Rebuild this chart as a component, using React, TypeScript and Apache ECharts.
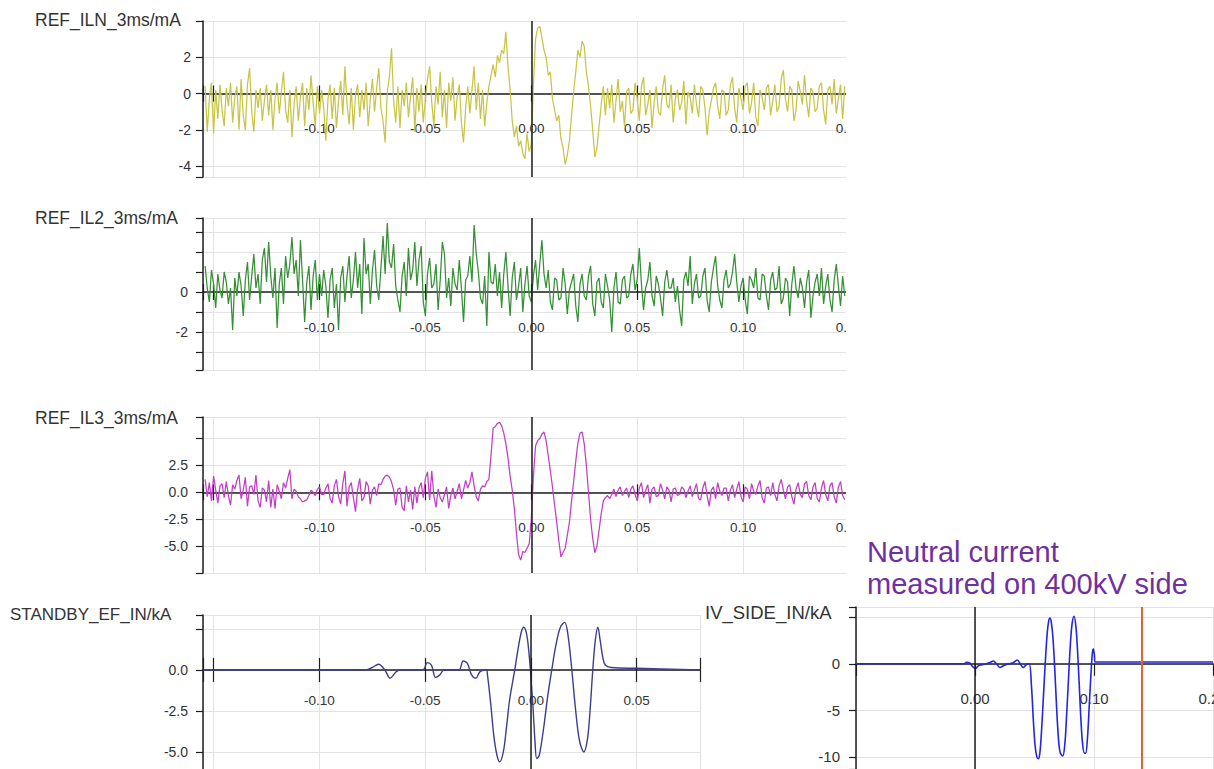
import React, { useEffect, useRef } from 'react';
import * as echarts from 'echarts';

// ---- sampling of the three REF traces (time axis, seconds) ----
const T0 = -0.154;
const DT = 0.001;

const ilnValues = [
  0.4, -2.1, -0.3, 0.6, -2.2, 0.2, -1.4, 0.5, -0.9, -1.8,
  0.3, -0.7, 0.6, -1.6, -0.2, 0.4, -2.0, 0.8, -1.2, -2.0,
  0.5, 1.4, -1.0, -2.1, 0.2, -0.8, 0.3, -1.5, -0.4, 0.5,
  -1.2, 0.2, -2.0, -0.3, 0.6, -1.1, 0.1, 1.2, -0.9, -1.6,
  0.2, -2.4, -0.6, 0.4, -1.5, -0.2, 0.6, -1.8, 0.3, -0.9,
  1.0, -0.5, -1.8, 0.4, -1.1, 0.2, -0.8, -2.6, -0.3, 0.5,
  -1.4, 0.3, -1.9, -0.4, 0.7, -1.2, 1.5, -0.6, -1.7, 0.3,
  -2.0, -0.1, 0.5, -1.3, 0.2, -0.9, 0.6, -1.8, -0.3, 0.8,
  -1.0, 0.3, 1.4, -0.8, -1.5, -2.7, 0.1, 0.9, 2.5, -0.4,
  -1.6, 0.4, -1.9, 0.2, -0.7, 0.6, -1.3, -0.2, 0.9, -2.1,
  0.3, -1.0, 0.5, -1.6, -0.3, 0.8, 1.5, -0.5, -1.8, 0.4,
  -0.6, 1.2, -1.3, 0.2, -1.9, 0.6, -0.4, 0.9, -1.5, -0.2,
  0.5, -1.6, -2.7, -0.8, 0.4, -1.1, 0.2, 1.5, -0.9, 0.6,
  -1.4, 0.2, -1.8, -0.5,
  0.4, 1.0, 1.6, 0.9, 2.1, 1.7, 2.4, 2.2, 3.4, 1.5,
  0.2, -1.5, -2.4, -1.8, -2.9, -2.6, -3.3, -3.6, -2.2, -3.2,
  -2.8, 0.5, 3.0, 3.6, 3.7, 3.1, 2.4, 2.0, 1.0, 1.2,
  -0.3, -0.9, -1.5, -1.2, -2.5, -3.0, -3.9, -3.4, -2.6, -1.2,
  0.1, 1.2, 2.4, 2.0, 2.9, 2.6, 1.2, 0.4, -0.7, -2.0,
  -3.5, -3.0, -1.8, -0.6, 0.4,
  -1.2, 0.3, -0.8, 0.5, -1.6, -0.4, 0.8, -1.0, -0.4, -1.8,
  0.1, 0.3, -1.1, -0.9, 0.6, -0.2, -1.5, 0.4, 0.9, -1.2,
  -0.6, 0.2, -1.9, -0.5, 0.4, -1.0, -1.2, 0.3, 1.0, -0.6,
  -0.8, 0.5, -1.6, -0.3, 0.2, -0.9, -0.5, 0.7, -1.7, 0.1,
  -0.2, -1.1, 0.5, -0.6, -1.3, 0.4, 0.2, -0.8, -2.3, -1.0,
  -0.4, 0.3, 0.6, -0.7, -1.4, 0.2, 0.1, -1.2, -0.9, 0.5,
  0.9, -0.8, -1.6, 0.3, -0.3, -0.9, 0.4, 0.6, -1.1, -0.5,
  0.6, -1.3, -1.8, 0.2, -0.2, -0.9, 0.3, 0.5, -1.2, -0.4,
  0.5, -1.0, -0.7, 0.8, 1.3, -0.3, -1.0, 0.4, 0.2, -1.5,
  -0.9, 0.7, 0.1, -0.6, 1.0, -0.4, -1.3, 0.3, 0.1, -1.0,
  -0.8, 0.4, 0.6, -0.9, -1.7, 0.2, 0.4, -0.6, 0.8, -1.1,
  -0.3, 0.5, -1.4, 0.4,
];

const il2Values = [
  1.3, 0.2, -0.5, 1.1, 0.4, -0.8, 0.9, 0.1, -0.3, 1.0,
  0.5, -0.6, 0.2, -1.9, 0.7, -0.2, 1.0, 0.3, -1.2, 0.6,
  1.5, -0.4, 0.8, 1.9, 0.2, 0.9, -0.6, 1.6, 2.2, 0.5,
  2.5, 0.8, -0.3, 1.2, -1.8, 0.4, 1.2, -0.6, 1.8, 0.7,
  1.4, 2.75, 0.9, 1.6, -0.2, 2.6, 0.6, -1.5, 0.5, 1.3,
  -0.9, 0.8, 1.6, -0.4, 0.9, -0.2, 1.1, 0.3, -1.3, 0.6,
  1.2, -0.8, 0.4, -1.9, 0.7, 1.3, -0.5, 0.8, 1.8, -0.3,
  0.6, 2.0, 0.2, 1.4, -1.1, 2.7, 0.9, 1.4, -0.6, 1.1,
  2.1, 0.3, -0.4, 1.2, 2.8, 0.9, 3.45, 1.5, 1.2, 2.4,
  0.3, -0.4, -1.0, 0.8, 1.5, -0.2, 2.2, 0.6, 1.1, 2.5,
  0.3, 1.6, 2.3, -0.5, -1.2, 0.9, 1.7, 0.2, 0.4, 1.4,
  -0.9, 0.6, 2.5, 1.9, -0.3, 0.7, -0.7, 1.2, 0.4, 0.1,
  1.6, 0.2, -1.5, 0.6, 0.8, 1.8, 0.5, 3.35, 1.9, 1.0,
  -0.3, -0.6, 0.8, -1.7, 2.0, 0.5, 0.4, 1.4, -0.2, 1.0,
  -0.8, 0.9, 2.0, 0.3, -1.2, 0.7, 1.5, -0.4, 0.3, 1.2,
  -1.0, 0.4, 1.3, -0.2, -0.5, 0.8, 1.6, 0.1, 1.4, 2.6,
  0.9, 0.2, 1.1, -0.5, -0.9, 0.7, 0.6, -0.4, -0.3, 1.2,
  0.4, -1.1, 0.1, 0.5, 0.9, -0.7, -1.5, 0.4, 0.9, -0.2,
  -0.4, 0.8, 1.3, -0.6, -1.2, 0.5, 0.7, -0.5, -0.8, 0.9,
  0.3, -0.4, -2.0, 0.2, 1.0, -0.5, -0.6, 0.6, 0.8, -0.3,
  -0.2, 0.9, 1.4, 0.1, 0.6, 2.2, 0.4, -0.9, 0.2, 0.6,
  1.5, -0.2, -0.7, 0.8, 0.4, -0.3, -1.2, 0.5, 1.1, 0.2,
  0.2, 0.7, -0.5, 0.3, -0.9, -1.7, 0.6, 1.0, 0.3, 1.8,
  -0.6, 0.4, 0.9, -0.3, -0.2, 0.8, 1.2, -0.4, -1.0, 0.5,
  1.2, 1.8, 0.3, -0.4, -0.8, 0.6, 1.1, 0.2, 0.4, 1.0,
  1.9, 0.5, -0.5, 0.3, 0.7, -0.4, -1.1, 0.8, 0.6, 0.2,
  1.2, -0.3, -0.4, 0.9, 0.8, -0.2, -0.9, 0.6, 1.0, 0.1,
  0.2, 1.3, -0.6, -0.3, 0.7, 0.5, -1.2, 0.4, 1.3, 0.2,
  -0.3, 0.7, 0.2, -0.8, 0.5, 1.1, -1.3, -0.2, 0.5, 0.9,
  -0.2, 1.2, -0.6, 0.3, 0.9, -0.4, -1.0, 0.6, 1.4, 0.3,
  -0.7, 0.8, -0.2,
];

const il3Values = [
  1.2, -0.4, 0.9, -0.8, 1.5, 0.2, -1.0, 0.6, 0.8, -0.5,
  1.0, -0.3, -1.2, 0.7, 0.3, 1.1, 1.6, -0.6, 0.2, 1.4,
  -1.3, 0.5, 0.6, -0.2, 1.6, -0.8, -1.4, 0.4, 0.2, -0.9,
  1.1, -1.4, 0.3, -1.5, 0.7, 0.1, -0.6, 0.9, 0.4, 1.3,
  2.1, -0.6, 0.3, 0.1, -0.4, -0.6, -0.9, -0.8, -0.7, -0.3,
  0.2, 0.0, -0.3, 0.3, 0.5, -0.2, -0.2, 0.4, 0.8, -0.6,
  -1.0, 0.6, 1.2, -0.4, -1.1, 0.8, 2.0, -1.3, 0.5, 0.9,
  -0.5, -1.8, 0.3, 1.3, -0.8, -0.5, 1.0, 0.6, -1.1, 0.2,
  0.5, -0.3, 0.8, 0.7, 1.2, 1.5, 1.6, 1.4, 1.0, 0.2,
  -1.2, 0.3, 0.4, -1.4, -1.7, 0.6, -0.9, 0.2, -1.6, 0.5,
  -1.0, 0.4, 0.9, -0.5, 1.3, 1.9, -0.7, 2.0, -0.3, -1.4,
  0.3, -0.5, -0.9, -0.2, 0.5, -1.5, -0.3, 0.4, -0.6, 0.1,
  0.8, -0.6, 0.2, 1.1, 0.4, 0.9, 1.9, 0.6, -0.4, -0.8,
  0.3, 0.6,
  0.5, 1.0, 1.2, 3.5, 6.0, 6.1, 6.4, 6.5, 6.2, 5.5,
  4.5, 3.2, 1.5, 0.2, -1.5, -3.8, -5.8, -6.3, -5.5, -5.6,
  -5.2, -4.8, -2.5, 1.5, 4.3, 4.8, 5.0, 5.4, 5.6, 4.8,
  3.4, 2.0, 0.5, -1.2, -2.8, -4.5, -6.0, -5.6, -5.2, -4.0,
  -2.8, -0.8, 1.0, 2.9, 4.6, 5.5, 5.6, 4.5, 2.5, 0.0,
  -2.5, -4.3, -5.6, -5.0, -3.5, -2.0, -0.8, -0.5, -0.3, -0.6,
  -0.2, 0.3, -0.4, 0.2, 0.5, -0.3, 0.1, 0.4, -0.5, 0.3,
  0.6, -0.2, -0.8, 0.4, 0.9, -0.5, 0.2, 0.7, -1.0, 0.3,
  0.5, -0.4, -0.3, 0.8, 0.2, -0.6, 0.5, 0.2, -0.9, 0.3,
  0.4, -0.3, -0.2, 0.5, 0.3, -0.5, 0.1, 0.6, -0.4, 0.2,
  0.8, -0.6, -0.7, 0.4, 1.0, -0.3, -1.3, 0.2, 0.5, -0.6,
  0.9, 0.1, -0.3, 0.4, 0.4, -0.8, 0.2, 0.7, -0.5, 0.3,
  1.0, -0.4, -0.9, 0.5, 0.3, -0.6, 0.8, 0.1, -0.2, 0.6,
  1.1, -0.5, -1.0, 0.4, 0.5, -0.3, 0.9, -0.2, -0.8, 0.6,
  1.2, 0.2, -0.6, 0.5, 0.7, -0.4, -1.1, 0.3, 0.9, -0.2,
  -0.5, 0.8, 1.0, -0.3, -0.7, 0.5, 0.9, -0.6, -0.9, 0.4,
  1.1, -0.2, -0.8, 0.6, 0.9, -0.4, -1.0, 0.5, 1.0, -0.3,
  -0.7,
];

// ---- STANDBY_EF_IN/kA : [time s, value kA] ----
const standbySamples: [number, number][] = [
  [-0.155, 0], [-0.078, 0], [-0.075, 0.15], [-0.072, 0.35], [-0.069, 0], [-0.0665, -0.5],
  [-0.064, -0.15], [-0.062, 0], [-0.051, 0], [-0.049, 0.45], [-0.047, 0.3], [-0.045, -0.45],
  [-0.043, -0.3], [-0.041, 0], [-0.034, 0], [-0.032, 0.55], [-0.03, 0.4], [-0.028, -0.3],
  [-0.026, -0.5], [-0.024, -0.1], [-0.021, 0],
  [-0.0205, -0.3], [-0.019, -2.0], [-0.0175, -4.0], [-0.016, -5.2], [-0.0147, -5.6], [-0.013, -5.0],
  [-0.0115, -3.5], [-0.01, -1.8], [-0.0076, 0.0], [-0.006, 1.3], [-0.0045, 2.3], [-0.0033, 2.6],
  [-0.002, 2.2], [-0.001, 1.2], [0.0, -0.3], [0.001, -2.2], [0.002, -4.4], [0.0028, -5.4],
  [0.004, -5.2], [0.006, -3.6], [0.008, -1.6], [0.0099, 0.0], [0.012, 1.6], [0.014, 2.6],
  [0.016, 2.9], [0.0175, 2.2], [0.0194, 0.0], [0.021, -2.2], [0.023, -4.3], [0.0251, -5.0],
  [0.0268, -4.2], [0.028, -2.5], [0.0293, 0.0], [0.0305, 1.8], [0.0317, 2.6], [0.0328, 1.8],
  [0.034, 0.8], [0.0352, 0.3], [0.038, 0.15], [0.05, 0.1], [0.08, 0.0],
];

// ---- IV_SIDE_IN/kA : [time s, value kA] ----
const ivSamples: [number, number][] = [
  [-0.1, 0], [-0.0095, 0], [-0.007, 0.15], [-0.0045, 0.1], [-0.002, -0.3], [0.0005, -0.5],
  [0.003, -0.2], [0.006, -0.1], [0.009, 0.0], [0.012, 0.1], [0.0155, 0.3], [0.018, 0.0],
  [0.021, -0.4], [0.024, -0.2], [0.028, 0.0], [0.032, 0.1], [0.0355, 0.4], [0.038, 0.0],
  [0.0405, -0.4], [0.043, -0.1], [0.0455, 0.0],
  [0.0475, -2.5], [0.049, -6.0], [0.0505, -8.8], [0.052, -10.0], [0.0532, -10.2], [0.0545, -9.6],
  [0.056, -7.0], [0.0575, -3.5], [0.059, 0.0], [0.0605, 3.0], [0.0618, 4.5], [0.063, 4.9],
  [0.0642, 4.4], [0.0655, 2.8], [0.067, -0.5], [0.0685, -4.5], [0.07, -7.8], [0.0715, -9.5],
  [0.0737, -9.9], [0.0755, -8.6], [0.077, -5.5], [0.0785, -1.8], [0.08, 1.8], [0.0815, 4.2],
  [0.0832, 5.1], [0.0848, 4.0], [0.086, 1.8], [0.0875, -2.0], [0.089, -6.0], [0.0905, -8.7],
  [0.092, -9.6], [0.093, -9.6], [0.0945, -8.0], [0.096, -4.5], [0.0975, -1.0], [0.0985, 1.0],
  [0.0994, 1.6], [0.1003, 1.0], [0.1008, 0.2], [0.11, 0.2], [0.2, 0.2],
];

const triggerTime = 0.136;

// ---- tick labels ----
const xLabelsRef = [-0.1, -0.05, 0, 0.05, 0.1, 0.15];
const xLabelsStandby = [-0.1, -0.05, 0, 0.05];
const xLabelsIv = [0, 0.1, 0.2];
const yLabelsIln = [2, 0, -2, -4];
const yLabelsIl2 = [0, -2];
const yLabelsIl3 = [2.5, 0, -2.5, -5];
const yLabelsStandby = [0, -2.5, -5];
const yLabelsIv = [0, -5, -10];

const FONT = '"Liberation Sans", Arial, Helvetica, sans-serif';
const GRID_C = '#e3e3e3';
const AXIS_C = '#1e1e1e';
const TXT_C = '#333333';

const listFormatter = (list: number[], digits: number) => (v: number) => {
  if (!list.some((l) => Math.abs(l - v) < 1e-6)) return '';
  return Math.abs(v) < 1e-9 ? (0).toFixed(digits) : v.toFixed(digits);
};

const toSeries = (vals: number[]) => vals.map((v, i) => [T0 + i * DT, v]);

type Panel = {
  left: number; top: number; width: number; height: number;
  yMin: number; yMax: number;
};

function buildOption() {
  const panels: Panel[] = [
    { left: 203, top: 21, width: 646, height: 156, yMin: -4.6, yMax: 4 },
    { left: 203, top: 218, width: 646, height: 152, yMin: -3.9, yMax: 3.7 },
    { left: 203, top: 417, width: 646, height: 156, yMin: -7.5, yMax: 7 },
    { left: 203, top: 615, width: 497, height: 178, yMin: -7.5, yMax: 3.35 },
    { left: 856, top: 607, width: 357, height: 162, yMin: -11.3, yMax: 6.1 },
  ];
  const grids = panels.map((p) => ({
    left: p.left, top: p.top, width: p.width, height: p.height,
    containLabel: false, outerBoundsMode: 'none',
  }));
  // distance of the zero level from the bottom / top edge of each plot
  const zeroFromBottom = (p: Panel) => (p.height * (0 - p.yMin)) / (p.yMax - p.yMin);
  const zeroFromTop = (p: Panel) => (p.height * p.yMax) / (p.yMax - p.yMin);

  const xAxisMain = (k: number, min: number, max: number, split: number | undefined, interval: number | undefined,
    labels: number[], tickLen: number, margin: number, fontSize: number) => ({
    type: 'value', gridIndex: k, min, max, splitNumber: split, interval,
    position: 'bottom',
    offset: -zeroFromBottom(panels[k]),
    axisLine: { show: true, onZero: false, lineStyle: { color: AXIS_C, width: 1.5 } },
    axisTick: { show: true, length: tickLen, lineStyle: { color: AXIS_C, width: 1.2 } },
    axisLabel: { margin, fontSize, color: TXT_C, fontFamily: FONT, formatter: listFormatter(labels, 2) },
    splitLine: { show: true, lineStyle: { color: GRID_C, width: 1 } },
  });
  const xAxisUpper = (k: number, min: number, max: number, split: number | undefined, tickLen: number) => ({
    type: 'value', gridIndex: k, min, max, splitNumber: split,
    position: 'top',
    offset: -zeroFromTop(panels[k]),
    axisLine: { show: false, onZero: false },
    axisTick: { show: true, length: tickLen, lineStyle: { color: AXIS_C, width: 1.2 } },
    axisLabel: { show: false },
    splitLine: { show: false },
  });

  const xAxis = [
    xAxisMain(0, -0.155, 0.15, 6, undefined, xLabelsRef, 8, 28, 13.5),
    xAxisUpper(0, -0.155, 0.15, 6, 8),
    xAxisMain(1, -0.155, 0.15, 6, undefined, xLabelsRef, 8, 28, 13.5),
    xAxisUpper(1, -0.155, 0.15, 6, 8),
    xAxisMain(2, -0.155, 0.15, 6, undefined, xLabelsRef, 8, 28, 13.5),
    xAxisUpper(2, -0.155, 0.15, 6, 8),
    xAxisMain(3, -0.155, 0.08, 5, undefined, xLabelsStandby, 12, 24, 13.5),
    xAxisUpper(3, -0.155, 0.08, 5, 12),
    xAxisMain(4, -0.1, 0.2, undefined, 0.1, xLabelsIv, 12, 27, 15),
  ];

  const yAxisOf = (k: number, split: number | undefined, interval: number | undefined,
    labels: number[], digits: number, margin: number, fontSize: number) => ({
    type: 'value', gridIndex: k, min: panels[k].yMin, max: panels[k].yMax, splitNumber: split, interval,
    axisLine: { show: true, onZero: false, lineStyle: { color: AXIS_C, width: 1.5 } },
    axisTick: { show: true, length: 7, lineStyle: { color: AXIS_C, width: 1.2 } },
    axisLabel: { margin, fontSize, color: TXT_C, fontFamily: FONT, formatter: listFormatter(labels, digits) },
    splitLine: { show: true, lineStyle: { color: GRID_C, width: 1 } },
  });

  const yAxis = [
    yAxisOf(0, 4, undefined, yLabelsIln, 0, 12, 14),
    yAxisOf(1, 7, undefined, yLabelsIl2, 0, 15, 14),
    yAxisOf(2, undefined, 2.5, yLabelsIl3, 1, 15, 14),
    yAxisOf(3, undefined, 2.5, yLabelsStandby, 1, 15, 14),
    yAxisOf(4, 3, undefined, yLabelsIv, 0, 16, 15),
  ];

  const zeroLine = (extra: any[] = []) => ({
    silent: true,
    symbol: ['none', 'none'],
    label: { show: false },
    lineStyle: { color: AXIS_C, width: 1.5, type: 'solid' },
    data: [{ xAxis: 0 }, ...extra],
  });

  const lineSeries = (xi: number, yi: number, data: any[], color: string, width: number, smooth: number | boolean, extra: any[] = []) => ({
    type: 'line', xAxisIndex: xi, yAxisIndex: yi, data,
    showSymbol: false, symbol: 'none', smooth, silent: true,
    lineStyle: { color, width }, itemStyle: { color },
    markLine: zeroLine(extra),
  });

  const series = [
    lineSeries(0, 0, toSeries(ilnValues), '#c8c546', 1.25, false),
    lineSeries(2, 1, toSeries(il2Values), '#358f35', 1.25, false),
    lineSeries(4, 2, toSeries(il3Values), '#c23ec5', 1.25, false),
    lineSeries(6, 3, standbySamples, '#3d3d8e', 1.4, 0.35),
    lineSeries(8, 4, ivSamples, '#2424e4', 1.6, 0.35, [
      { xAxis: triggerTime, lineStyle: { color: '#e2642f', width: 2, type: 'solid' } },
    ]),
  ];

  const title = (text: string, x: number, y: number, fontSize: number) => ({
    type: 'text', x, y, z: 110,
    style: { text, fontSize, fontFamily: FONT, fill: TXT_C, verticalAlign: 'middle', align: 'left' },
  });

  const graphic = [
    // the source picture is cut off at this edge
    { type: 'rect', x: 846, y: 0, z: 100, shape: { x: 0, y: 0, width: 18, height: 578 }, style: { fill: '#ffffff' } },
    title('REF_ILN_3ms/mA', 35, 20, 17.5),
    title('REF_IL2_3ms/mA', 35, 218, 17.5),
    title('REF_IL3_3ms/mA', 35, 418, 17.5),
    title('STANDBY_EF_IN/kA', 10, 614, 17),
    title('IV_SIDE_IN/kA', 705, 612, 18.5),
    {
      type: 'text', x: 867, y: 552, z: 110,
      style: { text: 'Neutral current', fontSize: 29, fontFamily: FONT, fill: '#7030a0', verticalAlign: 'middle', align: 'left' },
    },
    {
      type: 'text', x: 867, y: 584, z: 110,
      style: { text: 'measured on 400kV side', fontSize: 29, fontFamily: FONT, fill: '#7030a0', verticalAlign: 'middle', align: 'left' },
    },
  ];

  return {
    animation: false,
    backgroundColor: '#ffffff',
    textStyle: { fontFamily: FONT },
    grid: grids,
    xAxis,
    yAxis,
    series,
    graphic,
  };
}

export default function App() {
  const ref = useRef<HTMLDivElement>(null);
  useEffect(() => {
    if (!ref.current) return;
    const chart = echarts.init(ref.current, undefined, { renderer: 'svg' });
    chart.setOption(buildOption() as any);
    return () => chart.dispose();
  }, []);
  return (
    <div
      ref={ref}
      style={{ position: 'fixed', left: 0, top: 0, width: 1214, height: 769, background: '#ffffff' }}
    />
  );
}
